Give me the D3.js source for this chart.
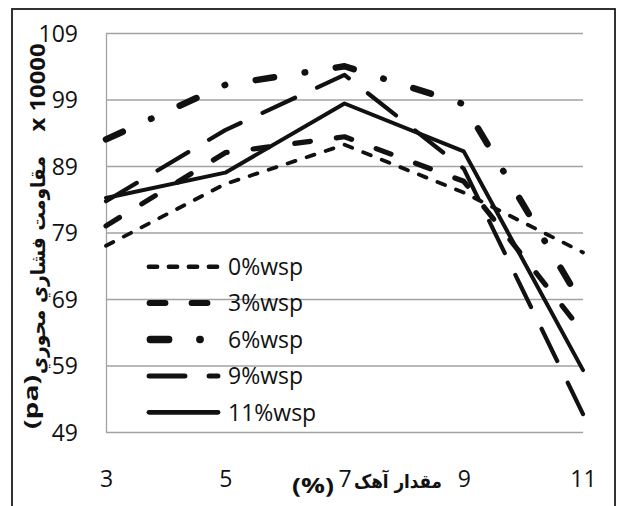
<!DOCTYPE html>
<html>
<head>
<meta charset="utf-8">
<script src="https://cdn.jsdelivr.net/npm/d3@7"></script>
<style>
  html, body { margin: 0; padding: 0; background: #fff; }
  svg { display: block; }
</style>
</head>
<body>
<svg id="chart" width="619" height="506"></svg>
<script>
// Lime content (%) on the x axis
const lime = [3, 5, 7, 9, 11];
// Series: waste-stone-powder content
const seriesNames = ["0%wsp", "3%wsp", "6%wsp", "9%wsp", "11%wsp"];
const wsp0  = [77.0, 86.3, 92.2, 85.0, 76.0];
const wsp3  = [80.0, 91.0, 93.4, 86.7, 64.0];
const wsp6  = [93.0, 101.2, 104.0, 98.3, 68.0];
const wsp9  = [83.7, 94.4, 102.7, 88.6, 51.7];
const wsp11 = [84.2, 88.0, 98.4, 91.2, 58.3];
const yTicks = [49, 59, 69, 79, 89, 99, 109];
const yDomain = [49, 109];

const xTitle = "مقدار آهک";
const xUnit = "(%)";
const yTitle = "مقاومت فشاري محوري";
const yUnit = "(pa)";
const yScaleNote = "x 10000";

// Stroke styling per series (width, dash pattern with round caps)
const lineStyles = [
  { width: 3.8, dash: "8.2 11.8" },
  { width: 5.2, dash: "15.8 26.2" },
  { width: 6.5, dash: "18.5 31 0.5 31" },
  { width: 4.2, dash: "35.8 24.2" },
  { width: 4.0, dash: null }
];

const seriesValues = [wsp0, wsp3, wsp6, wsp9, wsp11];
const series = seriesNames.map((name, i) => ({
  name,
  points: lime.map((x, j) => ({ x, y: seriesValues[i][j] })),
  style: lineStyles[i]
}));

const plot = { left: 106, right: 583, top: 33, bottom: 432 };
const ink = "#111";
const gridColor = "#a2a2a2";
const numFont = "'Open Sans', 'Liberation Sans', sans-serif";
const arabicFont = "'DejaVu Sans', sans-serif";

const svg = d3.select("#chart");

// outer frame
svg.append("rect")
  .attr("x", 12).attr("y", 9)
  .attr("width", 603).attr("height", 520)
  .attr("fill", "#fff")
  .attr("stroke", "#1c1c1c")
  .attr("stroke-width", 1.8);

const x = d3.scaleLinear().domain([lime[0], lime[lime.length - 1]]).range([plot.left, plot.right]);
const y = d3.scaleLinear().domain(yDomain).range([plot.bottom, plot.top]);

// y axis with gridlines
const yAxis = svg.append("g")
  .attr("transform", `translate(${plot.left},0)`)
  .call(d3.axisLeft(y)
    .tickValues(yTicks)
    .tickSize(-(plot.right - plot.left))
    .tickSizeOuter(0)
    .tickPadding(28));
yAxis.select(".domain").attr("stroke", gridColor).attr("stroke-width", 1.3);
yAxis.selectAll(".tick line").attr("stroke", gridColor).attr("stroke-width", 1.3);
yAxis.selectAll(".tick text")
  .attr("fill", ink)
  .attr("font-family", numFont)
  .attr("font-size", 23)
  .attr("dy", "0.36em");

// x axis labels
const xAxis = svg.append("g")
  .attr("transform", `translate(0,${plot.bottom})`)
  .call(d3.axisBottom(x)
    .tickValues(lime)
    .tickFormat(d3.format("d"))
    .tickSize(0)
    .tickPadding(38.5));
xAxis.select(".domain").remove();
xAxis.selectAll(".tick text")
  .attr("fill", ink)
  .attr("font-family", numFont)
  .attr("font-size", 23);

// series lines
const line = d3.line().x(d => x(d.x)).y(d => y(d.y));
svg.append("g")
  .selectAll("path")
  .data(series)
  .join("path")
  .attr("d", d => line(d.points))
  .attr("fill", "none")
  .attr("stroke", ink)
  .attr("stroke-width", d => d.style.width)
  .attr("stroke-dasharray", d => d.style.dash)
  .attr("stroke-linecap", "round")
  .attr("stroke-linejoin", "round");

// legend
const legend = { x0: 147, x1: 220, textX: 228, y0: 266.7, step: 36.4 };
const rows = svg.append("g")
  .selectAll("g")
  .data(series)
  .join("g")
  .attr("transform", (d, i) => `translate(0,${legend.y0 + i * legend.step})`);
rows.append("path")
  .attr("d", d => `M${legend.x0 + d.style.width / 2},0H${legend.x1 - d.style.width / 2}`)
  .attr("fill", "none")
  .attr("stroke", ink)
  .attr("stroke-width", d => d.style.width + 0.8)
  .attr("stroke-dasharray", d => d.style.dash)
  .attr("stroke-linecap", "round");
rows.append("text")
  .attr("x", legend.textX)
  .attr("y", 8.2)
  .attr("fill", ink)
  .attr("font-family", numFont)
  .attr("font-size", 23)
  .text(d => d.name);

// y axis title (rotated pieces)
svg.append("text")
  .attr("transform", "translate(45,87.5) rotate(-90)")
  .attr("text-anchor", "middle")
  .attr("fill", ink)
  .attr("font-family", numFont)
  .attr("font-weight", "bold")
  .attr("font-size", 21)
  .attr("textLength", 88)
  .attr("lengthAdjust", "spacingAndGlyphs")
  .text(yScaleNote);
svg.append("text")
  .attr("transform", "translate(45,265) rotate(-90)")
  .attr("text-anchor", "middle")
  .attr("direction", "rtl")
  .attr("fill", ink)
  .attr("font-family", arabicFont)
  .attr("font-weight", "bold")
  .attr("font-size", 20)
  .attr("textLength", 218)
  .attr("lengthAdjust", "spacingAndGlyphs")
  .text(yTitle);
svg.append("text")
  .attr("transform", "translate(38,402) rotate(-90)")
  .attr("text-anchor", "middle")
  .attr("fill", ink)
  .attr("font-family", numFont)
  .attr("font-weight", "bold")
  .attr("font-size", 20)
  .attr("textLength", 54)
  .attr("lengthAdjust", "spacingAndGlyphs")
  .text(yUnit);

// x axis title: unit left of the tick "7", Arabic label right of it
svg.append("text")
  .attr("x", 334).attr("y", 493)
  .attr("text-anchor", "end")
  .attr("fill", ink)
  .attr("font-family", numFont)
  .attr("font-weight", "bold")
  .attr("font-size", 21)
  .attr("textLength", 42)
  .attr("lengthAdjust", "spacingAndGlyphs")
  .text(xUnit);
svg.append("text")
  .attr("x", 398).attr("y", 488)
  .attr("text-anchor", "middle")
  .attr("direction", "rtl")
  .attr("fill", ink)
  .attr("font-family", arabicFont)
  .attr("font-weight", "bold")
  .attr("font-size", 19)
  .attr("textLength", 88)
  .attr("lengthAdjust", "spacingAndGlyphs")
  .text(xTitle);
</script>
</body>
</html>
